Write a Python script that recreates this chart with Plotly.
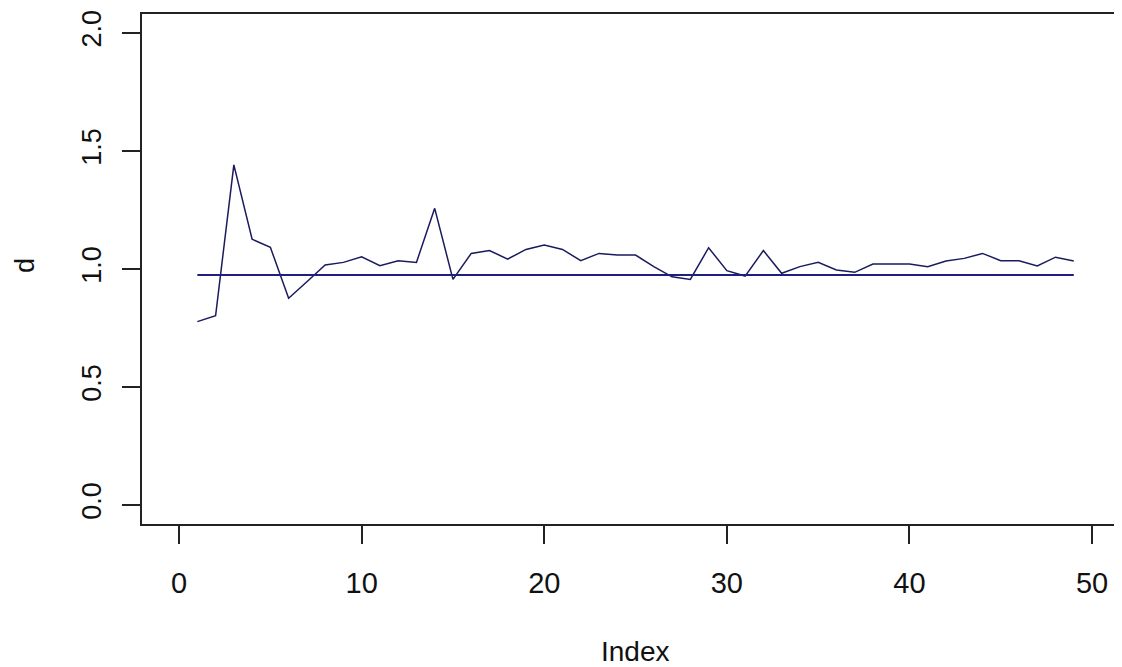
import plotly.graph_objects as go

# values
index = list(range(1, 50))
d = [
    0.777, 0.802, 1.441, 1.126, 1.092, 0.876, 0.946, 1.017, 1.028, 1.052,
    1.014, 1.035, 1.028, 1.257, 0.956, 1.066, 1.078, 1.042, 1.083, 1.102,
    1.083, 1.035, 1.066, 1.059, 1.059, 1.010, 0.967, 0.956, 1.090, 0.993,
    0.970, 1.078, 0.982, 1.010, 1.028, 0.996, 0.986, 1.021, 1.021, 1.021,
    1.010, 1.034, 1.045, 1.066, 1.035, 1.035, 1.013, 1.050, 1.034,
]
ref_x = [1, 49]
ref_y = [0.975, 0.975]

x_ticks = [0, 10, 20, 30, 40, 50]
y_ticks = [0.0, 0.5, 1.0, 1.5, 2.0]
y_tick_text = ["0.0", "0.5", "1.0", "1.5", "2.0"]

FONT = "Liberation Sans, Arial, sans-serif"

fig = go.Figure()
fig.add_trace(go.Scatter(x=index, y=d, mode="lines",
                         line=dict(color="#1a1a5e", width=1.5)))
fig.add_trace(go.Scatter(x=ref_x, y=ref_y, mode="lines",
                         line=dict(color="#1f1f80", width=2)))

# the page body adds an 8px offset, so the figure is 8px smaller on each side
fig.update_layout(
    width=1114, height=659,
    margin=dict(l=134, r=0, t=6, b=143),
    paper_bgcolor="white", plot_bgcolor="white",
    showlegend=False,
    font=dict(family=FONT, color="#111"),
)
fig.update_xaxes(
    range=[-2.03, 51.64], tickvals=x_ticks, automargin=False,
    showline=True, linecolor="#222", linewidth=2, mirror=True,
    ticks="outside", ticklen=18, tickwidth=1.5, tickcolor="#222",
    ticklabelstandoff=14, tickfont=dict(size=29),
    showgrid=False, zeroline=False,
)
fig.update_yaxes(
    range=[-0.08, 2.08], tickvals=y_ticks, ticktext=y_tick_text, automargin=False,
    showline=True, linecolor="#222", linewidth=2, mirror=False,
    ticks="outside", ticklen=18, tickwidth=1.5, tickcolor="#222",
    ticklabelstandoff=10, tickangle=-90, tickfont=dict(size=27),
    showgrid=False, zeroline=False,
)

# axis titles placed like R's mtext
fig.add_annotation(text="Index", xref="paper", yref="paper", x=0.5, y=0,
                   xanchor="center", yanchor="middle", yshift=-127, xshift=3,
                   showarrow=False, font=dict(size=28))
fig.add_annotation(text="d", xref="paper", yref="paper", x=0, y=0.5,
                   xanchor="center", yanchor="middle", xshift=-117, yshift=3,
                   textangle=-90, showarrow=False, font=dict(size=27))

fig.write_html("out.html")
